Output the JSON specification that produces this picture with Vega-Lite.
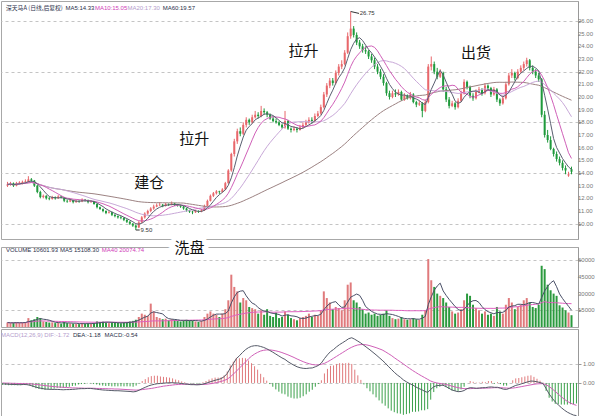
{
"$schema":"https://vega.github.io/schema/vega-lite/v6.json",
"padding":0,
"spacing":0,
"config":{"view":{"stroke":"#a8a8a8"},"concat":{"spacing":0},"font":"Noto Sans CJK SC"},
"data":{"values":[
{"i":0,"o":13.0,"h":13.3,"l":12.9,"c":13.1,"v":4000,"dif":-0.05,"dea":0,"m":-0.1},
{"i":1,"o":13.1,"h":13.3,"l":13.0,"c":13.15,"v":3500,"dif":-0.06,"dea":-0.01,"m":-0.1},
{"i":2,"o":13.2,"h":13.25,"l":12.9,"c":13.0,"v":3800,"dif":-0.07,"dea":-0.01,"m":-0.12},
{"i":3,"o":13.0,"h":13.3,"l":12.95,"c":13.2,"v":4200,"dif":-0.08,"dea":-0.02,"m":-0.12},
{"i":4,"o":13.2,"h":13.35,"l":13.1,"c":13.25,"v":3600,"dif":-0.08,"dea":-0.02,"m":-0.12},
{"i":5,"o":13.2,"h":13.4,"l":13.1,"c":13.3,"v":4000,"dif":-0.09,"dea":-0.03,"m":-0.12},
{"i":6,"o":13.3,"h":13.5,"l":13.2,"c":13.35,"v":4500,"dif":-0.09,"dea":-0.03,"m":-0.12},
{"i":7,"o":13.3,"h":13.75,"l":13.25,"c":13.5,"v":8000,"dif":-0.08,"dea":-0.04,"m":-0.08},
{"i":8,"o":13.5,"h":13.6,"l":13.3,"c":13.4,"v":6000,"dif":-0.09,"dea":-0.04,"m":-0.1},
{"i":9,"o":13.4,"h":13.45,"l":12.9,"c":13.0,"v":7000,"dif":-0.12,"dea":-0.05,"m":-0.14},
{"i":10,"o":13.0,"h":13.05,"l":12.4,"c":12.5,"v":9000,"dif":-0.17,"dea":-0.06,"m":-0.22},
{"i":11,"o":12.5,"h":12.6,"l":12.0,"c":12.1,"v":8000,"dif":-0.22,"dea":-0.08,"m":-0.28},
{"i":12,"o":12.1,"h":12.3,"l":12.0,"c":12.2,"v":5000,"dif":-0.26,"dea":-0.1,"m":-0.32},
{"i":13,"o":12.2,"h":12.25,"l":11.9,"c":12.0,"v":4500,"dif":-0.29,"dea":-0.12,"m":-0.34},
{"i":14,"o":12.0,"h":12.1,"l":11.85,"c":11.95,"v":4000,"dif":-0.32,"dea":-0.14,"m":-0.36},
{"i":15,"o":11.95,"h":12.2,"l":11.9,"c":12.1,"v":4200,"dif":-0.33,"dea":-0.16,"m":-0.34},
{"i":16,"o":12.1,"h":12.15,"l":11.9,"c":12.0,"v":3500,"dif":-0.34,"dea":-0.18,"m":-0.32},
{"i":17,"o":12.0,"h":12.25,"l":11.95,"c":12.15,"v":3800,"dif":-0.34,"dea":-0.19,"m":-0.3},
{"i":18,"o":12.15,"h":12.2,"l":12.0,"c":12.05,"v":3000,"dif":-0.34,"dea":-0.21,"m":-0.26},
{"i":19,"o":12.05,"h":12.1,"l":11.7,"c":11.8,"v":4500,"dif":-0.35,"dea":-0.22,"m":-0.26},
{"i":20,"o":11.8,"h":11.9,"l":11.65,"c":11.75,"v":3500,"dif":-0.36,"dea":-0.23,"m":-0.26},
{"i":21,"o":11.75,"h":11.95,"l":11.7,"c":11.85,"v":3200,"dif":-0.35,"dea":-0.24,"m":-0.22},
{"i":22,"o":11.85,"h":11.9,"l":11.6,"c":11.7,"v":3000,"dif":-0.35,"dea":-0.25,"m":-0.2},
{"i":23,"o":11.7,"h":11.9,"l":11.65,"c":11.8,"v":2800,"dif":-0.34,"dea":-0.26,"m":-0.16},
{"i":24,"o":11.8,"h":11.85,"l":11.65,"c":11.75,"v":2600,"dif":-0.33,"dea":-0.26,"m":-0.14},
{"i":25,"o":11.75,"h":12.0,"l":11.7,"c":11.9,"v":3500,"dif":-0.31,"dea":-0.27,"m":-0.08},
{"i":26,"o":11.9,"h":11.95,"l":11.75,"c":11.85,"v":3000,"dif":-0.3,"dea":-0.27,"m":-0.06},
{"i":27,"o":11.85,"h":11.9,"l":11.6,"c":11.7,"v":3200,"dif":-0.3,"dea":-0.28,"m":-0.04},
{"i":28,"o":11.7,"h":11.85,"l":11.65,"c":11.75,"v":2800,"dif":-0.29,"dea":-0.28,"m":-0.02},
{"i":29,"o":11.75,"h":11.8,"l":11.5,"c":11.55,"v":3500,"dif":-0.29,"dea":-0.28,"m":-0.02},
{"i":30,"o":11.55,"h":11.6,"l":11.2,"c":11.3,"v":5000,"dif":-0.31,"dea":-0.28,"m":-0.06},
{"i":31,"o":11.3,"h":11.35,"l":11.1,"c":11.15,"v":4500,"dif":-0.33,"dea":-0.29,"m":-0.08},
{"i":32,"o":11.15,"h":11.2,"l":10.9,"c":11.0,"v":4800,"dif":-0.35,"dea":-0.29,"m":-0.12},
{"i":33,"o":11.0,"h":11.05,"l":10.75,"c":10.85,"v":4000,"dif":-0.37,"dea":-0.3,"m":-0.14},
{"i":34,"o":10.85,"h":11.0,"l":10.8,"c":10.9,"v":3500,"dif":-0.38,"dea":-0.3,"m":-0.16},
{"i":35,"o":10.9,"h":10.95,"l":10.6,"c":10.7,"v":4200,"dif":-0.39,"dea":-0.31,"m":-0.16},
{"i":36,"o":10.7,"h":10.75,"l":10.5,"c":10.6,"v":3800,"dif":-0.4,"dea":-0.31,"m":-0.18},
{"i":37,"o":10.6,"h":10.65,"l":10.4,"c":10.5,"v":3600,"dif":-0.41,"dea":-0.32,"m":-0.18},
{"i":38,"o":10.5,"h":10.6,"l":10.35,"c":10.45,"v":3400,"dif":-0.41,"dea":-0.32,"m":-0.18},
{"i":39,"o":10.45,"h":10.5,"l":10.2,"c":10.3,"v":4000,"dif":-0.42,"dea":-0.33,"m":-0.18},
{"i":40,"o":10.3,"h":10.35,"l":10.05,"c":10.15,"v":4500,"dif":-0.43,"dea":-0.34,"m":-0.18},
{"i":41,"o":10.15,"h":10.2,"l":9.9,"c":10.0,"v":5000,"dif":-0.44,"dea":-0.35,"m":-0.18},
{"i":42,"o":10.0,"h":10.05,"l":9.75,"c":9.85,"v":5500,"dif":-0.45,"dea":-0.36,"m":-0.18},
{"i":43,"o":9.85,"h":9.95,"l":9.5,"c":9.7,"v":6500,"dif":-0.47,"dea":-0.37,"m":-0.2},
{"i":44,"o":9.7,"h":10.2,"l":9.65,"c":10.1,"v":9000,"dif":-0.45,"dea":-0.38,"m":-0.14},
{"i":45,"o":10.1,"h":10.6,"l":10.05,"c":10.5,"v":12000,"dif":-0.38,"dea":-0.37,"m":-0.02},
{"i":46,"o":10.5,"h":10.9,"l":10.4,"c":10.8,"v":11000,"dif":-0.3,"dea":-0.35,"m":0.1},
{"i":47,"o":10.8,"h":11.1,"l":10.7,"c":11.0,"v":10000,"dif":-0.23,"dea":-0.33,"m":0.2},
{"i":48,"o":11.0,"h":11.3,"l":10.9,"c":11.2,"v":21000,"dif":-0.16,"dea":-0.31,"m":0.3},
{"i":49,"o":11.2,"h":11.5,"l":11.1,"c":11.35,"v":14000,"dif":-0.11,"dea":-0.29,"m":0.36},
{"i":50,"o":11.35,"h":11.6,"l":11.3,"c":11.45,"v":9000,"dif":-0.07,"dea":-0.26,"m":0.38},
{"i":51,"o":11.45,"h":11.7,"l":11.4,"c":11.5,"v":8000,"dif":-0.04,"dea":-0.23,"m":0.38},
{"i":52,"o":11.5,"h":11.55,"l":11.3,"c":11.4,"v":7000,"dif":-0.03,"dea":-0.2,"m":0.34},
{"i":53,"o":11.4,"h":11.65,"l":11.35,"c":11.55,"v":7500,"dif":-0.01,"dea":-0.17,"m":0.32},
{"i":54,"o":11.55,"h":11.6,"l":11.4,"c":11.5,"v":6000,"dif":0,"dea":-0.15,"m":0.3},
{"i":55,"o":11.5,"h":11.75,"l":11.45,"c":11.6,"v":7000,"dif":0.01,"dea":-0.13,"m":0.28},
{"i":56,"o":11.6,"h":11.65,"l":11.4,"c":11.5,"v":6500,"dif":0.01,"dea":-0.11,"m":0.24},
{"i":57,"o":11.5,"h":11.55,"l":11.35,"c":11.45,"v":5500,"dif":0,"dea":-0.09,"m":0.18},
{"i":58,"o":11.45,"h":11.5,"l":11.25,"c":11.35,"v":5000,"dif":-0.01,"dea":-0.08,"m":0.14},
{"i":59,"o":11.35,"h":11.4,"l":11.1,"c":11.2,"v":6000,"dif":-0.03,"dea":-0.07,"m":0.08},
{"i":60,"o":11.2,"h":11.25,"l":10.95,"c":11.05,"v":6500,"dif":-0.05,"dea":-0.07,"m":0.04},
{"i":61,"o":11.05,"h":11.1,"l":10.85,"c":10.95,"v":6000,"dif":-0.07,"dea":-0.07,"m":0},
{"i":62,"o":10.95,"h":11.0,"l":10.75,"c":10.9,"v":5500,"dif":-0.09,"dea":-0.07,"m":-0.04},
{"i":63,"o":10.9,"h":11.1,"l":10.85,"c":11.0,"v":5000,"dif":-0.09,"dea":-0.08,"m":-0.02},
{"i":64,"o":11.0,"h":11.05,"l":10.85,"c":10.95,"v":4500,"dif":-0.1,"dea":-0.08,"m":-0.04},
{"i":65,"o":10.95,"h":11.15,"l":10.9,"c":11.05,"v":5500,"dif":-0.09,"dea":-0.08,"m":-0.02},
{"i":66,"o":11.05,"h":11.5,"l":11.0,"c":11.4,"v":9000,"dif":-0.06,"dea":-0.08,"m":0.04},
{"i":67,"o":11.4,"h":11.9,"l":11.35,"c":11.8,"v":12000,"dif":-0.02,"dea":-0.07,"m":0.1},
{"i":68,"o":11.8,"h":12.3,"l":11.75,"c":12.2,"v":14000,"dif":0.04,"dea":-0.05,"m":0.18},
{"i":69,"o":12.2,"h":12.5,"l":12.1,"c":12.4,"v":12000,"dif":0.09,"dea":-0.03,"m":0.24},
{"i":70,"o":12.4,"h":12.65,"l":12.3,"c":12.55,"v":11000,"dif":0.14,"dea":0,"m":0.28},
{"i":71,"o":12.55,"h":12.6,"l":12.35,"c":12.5,"v":9000,"dif":0.18,"dea":0.04,"m":0.28},
{"i":72,"o":12.5,"h":12.8,"l":12.45,"c":12.7,"v":12000,"dif":0.23,"dea":0.08,"m":0.3},
{"i":73,"o":12.7,"h":13.3,"l":12.65,"c":13.2,"v":16000,"dif":0.33,"dea":0.13,"m":0.4},
{"i":74,"o":13.2,"h":14.3,"l":13.15,"c":14.2,"v":24000,"dif":0.5,"dea":0.2,"m":0.6},
{"i":75,"o":14.2,"h":15.6,"l":14.1,"c":15.5,"v":47000,"dif":0.78,"dea":0.32,"m":0.92},
{"i":76,"o":15.5,"h":16.7,"l":15.3,"c":16.5,"v":36000,"dif":1.02,"dea":0.46,"m":1.12},
{"i":77,"o":16.5,"h":17.5,"l":16.3,"c":17.3,"v":32000,"dif":1.28,"dea":0.62,"m":1.32},
{"i":78,"o":17.3,"h":17.6,"l":16.9,"c":17.1,"v":22000,"dif":1.43,"dea":0.78,"m":1.3},
{"i":79,"o":17.1,"h":18.0,"l":17.0,"c":17.8,"v":26000,"dif":1.6,"dea":0.94,"m":1.32},
{"i":80,"o":17.8,"h":18.4,"l":17.6,"c":18.2,"v":24000,"dif":1.75,"dea":1.1,"m":1.3},
{"i":81,"o":18.2,"h":18.3,"l":17.8,"c":18.0,"v":18000,"dif":1.86,"dea":1.27,"m":1.18},
{"i":82,"o":18.0,"h":18.6,"l":17.9,"c":18.4,"v":17000,"dif":1.93,"dea":1.41,"m":1.04},
{"i":83,"o":18.4,"h":18.9,"l":18.3,"c":18.6,"v":16000,"dif":1.96,"dea":1.52,"m":0.88},
{"i":84,"o":18.6,"h":18.8,"l":18.3,"c":18.5,"v":12000,"dif":1.96,"dea":1.61,"m":0.7},
{"i":85,"o":18.5,"h":19.3,"l":18.4,"c":18.9,"v":15000,"dif":1.92,"dea":1.68,"m":0.48},
{"i":86,"o":18.9,"h":19.1,"l":18.6,"c":18.8,"v":11000,"dif":1.87,"dea":1.72,"m":0.3},
{"i":87,"o":18.8,"h":18.9,"l":18.4,"c":18.6,"v":16000,"dif":1.8,"dea":1.74,"m":0.12},
{"i":88,"o":18.6,"h":18.7,"l":18.2,"c":18.3,"v":10000,"dif":1.71,"dea":1.74,"m":-0.06},
{"i":89,"o":18.3,"h":18.5,"l":18.0,"c":18.1,"v":9000,"dif":1.62,"dea":1.72,"m":-0.2},
{"i":90,"o":18.1,"h":18.3,"l":17.9,"c":18.0,"v":13000,"dif":1.52,"dea":1.69,"m":-0.34},
{"i":91,"o":18.0,"h":18.1,"l":17.7,"c":17.8,"v":8000,"dif":1.42,"dea":1.65,"m":-0.46},
{"i":92,"o":17.8,"h":17.9,"l":17.5,"c":17.6,"v":9000,"dif":1.32,"dea":1.6,"m":-0.56},
{"i":93,"o":17.6,"h":18.9,"l":17.5,"c":18.1,"v":14000,"dif":1.24,"dea":1.54,"m":-0.6},
{"i":94,"o":18.1,"h":18.2,"l":17.4,"c":17.5,"v":11000,"dif":1.12,"dea":1.48,"m":-0.72},
{"i":95,"o":17.5,"h":17.6,"l":17.2,"c":17.4,"v":8000,"dif":1.02,"dea":1.41,"m":-0.78},
{"i":96,"o":17.4,"h":17.7,"l":17.3,"c":17.5,"v":7000,"dif":0.93,"dea":1.34,"m":-0.82},
{"i":97,"o":17.5,"h":17.6,"l":17.2,"c":17.4,"v":6000,"dif":0.85,"dea":1.26,"m":-0.82},
{"i":98,"o":17.4,"h":17.8,"l":17.35,"c":17.6,"v":8000,"dif":0.8,"dea":1.19,"m":-0.78},
{"i":99,"o":17.6,"h":18.0,"l":17.5,"c":17.8,"v":9000,"dif":0.77,"dea":1.12,"m":-0.7},
{"i":100,"o":17.8,"h":18.2,"l":17.7,"c":18.0,"v":10000,"dif":0.76,"dea":1.06,"m":-0.6},
{"i":101,"o":18.0,"h":18.4,"l":17.9,"c":18.2,"v":12000,"dif":0.78,"dea":1.01,"m":-0.46},
{"i":102,"o":18.2,"h":18.4,"l":17.9,"c":18.1,"v":9000,"dif":0.79,"dea":0.97,"m":-0.36},
{"i":103,"o":18.1,"h":18.7,"l":18.0,"c":18.5,"v":11000,"dif":0.85,"dea":0.95,"m":-0.2},
{"i":104,"o":18.5,"h":18.9,"l":18.4,"c":18.7,"v":10000,"dif":0.92,"dea":0.95,"m":-0.06},
{"i":105,"o":18.7,"h":19.4,"l":18.6,"c":19.2,"v":15000,"dif":1.05,"dea":0.98,"m":0.14},
{"i":106,"o":19.2,"h":20.4,"l":19.1,"c":20.2,"v":32000,"dif":1.28,"dea":1.03,"m":0.5},
{"i":107,"o":20.2,"h":21.1,"l":20.0,"c":20.9,"v":26000,"dif":1.48,"dea":1.11,"m":0.74},
{"i":108,"o":20.9,"h":21.5,"l":20.7,"c":21.3,"v":22000,"dif":1.65,"dea":1.2,"m":0.9},
{"i":109,"o":21.3,"h":21.5,"l":20.9,"c":21.1,"v":16000,"dif":1.76,"dea":1.3,"m":0.92},
{"i":110,"o":21.1,"h":22.1,"l":21.0,"c":21.9,"v":18000,"dif":1.9,"dea":1.4,"m":1.0},
{"i":111,"o":21.9,"h":22.6,"l":21.7,"c":22.4,"v":17000,"dif":2.02,"dea":1.5,"m":1.04},
{"i":112,"o":22.4,"h":22.9,"l":22.2,"c":22.6,"v":15000,"dif":2.12,"dea":1.6,"m":1.04},
{"i":113,"o":22.6,"h":23.7,"l":22.5,"c":23.5,"v":24000,"dif":2.22,"dea":1.7,"m":1.04},
{"i":114,"o":23.5,"h":25.1,"l":23.4,"c":24.8,"v":38000,"dif":2.33,"dea":1.8,"m":1.06},
{"i":115,"o":24.8,"h":26.75,"l":24.6,"c":25.4,"v":40000,"dif":2.38,"dea":1.88,"m":1.0},
{"i":116,"o":25.4,"h":25.6,"l":24.7,"c":24.9,"v":24000,"dif":2.3,"dea":1.95,"m":0.7},
{"i":117,"o":24.9,"h":25.1,"l":24.1,"c":24.3,"v":22000,"dif":2.2,"dea":2.0,"m":0.4},
{"i":118,"o":24.3,"h":24.5,"l":23.8,"c":24.0,"v":18000,"dif":2.1,"dea":2.02,"m":0.16},
{"i":119,"o":24.0,"h":24.2,"l":23.5,"c":23.7,"v":16000,"dif":1.98,"dea":2.02,"m":-0.08},
{"i":120,"o":23.7,"h":24.0,"l":23.4,"c":23.6,"v":12000,"dif":1.86,"dea":2.0,"m":-0.28},
{"i":121,"o":23.6,"h":23.7,"l":23.0,"c":23.2,"v":13000,"dif":1.74,"dea":1.96,"m":-0.44},
{"i":122,"o":23.2,"h":23.4,"l":22.7,"c":22.9,"v":11000,"dif":1.61,"dea":1.91,"m":-0.6},
{"i":123,"o":22.9,"h":23.1,"l":22.2,"c":22.4,"v":12000,"dif":1.48,"dea":1.86,"m":-0.76},
{"i":124,"o":22.4,"h":22.6,"l":21.8,"c":22.0,"v":10000,"dif":1.34,"dea":1.8,"m":-0.92},
{"i":125,"o":22.0,"h":22.2,"l":21.4,"c":21.6,"v":11000,"dif":1.2,"dea":1.74,"m":-1.08},
{"i":126,"o":21.6,"h":21.8,"l":20.9,"c":21.1,"v":12000,"dif":1.05,"dea":1.65,"m":-1.2},
{"i":127,"o":21.1,"h":21.2,"l":20.1,"c":20.3,"v":15000,"dif":0.88,"dea":1.55,"m":-1.34},
{"i":128,"o":20.3,"h":20.5,"l":19.8,"c":20.0,"v":10000,"dif":0.72,"dea":1.45,"m":-1.46},
{"i":129,"o":20.0,"h":20.5,"l":19.9,"c":20.3,"v":8000,"dif":0.56,"dea":1.33,"m":-1.54},
{"i":130,"o":20.3,"h":20.6,"l":20.0,"c":20.2,"v":7000,"dif":0.42,"dea":1.22,"m":-1.6},
{"i":131,"o":20.2,"h":20.6,"l":20.1,"c":20.4,"v":7500,"dif":0.3,"dea":1.11,"m":-1.62},
{"i":132,"o":20.4,"h":20.5,"l":19.7,"c":19.8,"v":9000,"dif":0.16,"dea":1.0,"m":-1.68},
{"i":133,"o":19.8,"h":20.3,"l":19.7,"c":20.1,"v":7000,"dif":0.06,"dea":0.88,"m":-1.64},
{"i":134,"o":20.1,"h":20.2,"l":19.8,"c":19.9,"v":6500,"dif":-0.03,"dea":0.77,"m":-1.6},
{"i":135,"o":19.9,"h":20.4,"l":19.8,"c":20.2,"v":7000,"dif":-0.1,"dea":0.66,"m":-1.52},
{"i":136,"o":20.2,"h":20.3,"l":19.5,"c":19.6,"v":8000,"dif":-0.2,"dea":0.56,"m":-1.52},
{"i":137,"o":19.6,"h":19.7,"l":19.2,"c":19.4,"v":7000,"dif":-0.29,"dea":0.46,"m":-1.5},
{"i":138,"o":19.4,"h":19.7,"l":19.3,"c":19.5,"v":6500,"dif":-0.35,"dea":0.37,"m":-1.44},
{"i":139,"o":19.5,"h":19.6,"l":18.4,"c":18.9,"v":11000,"dif":-0.44,"dea":0.28,"m":-1.44},
{"i":140,"o":18.9,"h":19.8,"l":18.8,"c":19.6,"v":15000,"dif":-0.5,"dea":0.19,"m":-1.38},
{"i":141,"o":19.6,"h":22.6,"l":19.5,"c":22.4,"v":61000,"dif":-0.34,"dea":0.1,"m":-0.88},
{"i":142,"o":22.4,"h":23.2,"l":22.1,"c":22.6,"v":42000,"dif":-0.2,"dea":0.04,"m":-0.48},
{"i":143,"o":22.6,"h":22.8,"l":21.8,"c":22.0,"v":36000,"dif":-0.14,"dea":0,"m":-0.28},
{"i":144,"o":22.0,"h":22.3,"l":21.4,"c":21.6,"v":30000,"dif":-0.13,"dea":-0.03,"m":-0.2},
{"i":145,"o":21.6,"h":22.2,"l":21.5,"c":21.9,"v":28000,"dif":-0.12,"dea":-0.05,"m":-0.14},
{"i":146,"o":21.9,"h":22.0,"l":20.4,"c":20.6,"v":26000,"dif":-0.19,"dea":-0.08,"m":-0.22},
{"i":147,"o":20.6,"h":20.8,"l":19.6,"c":19.8,"v":22000,"dif":-0.28,"dea":-0.12,"m":-0.32},
{"i":148,"o":19.8,"h":20.0,"l":19.1,"c":19.3,"v":18000,"dif":-0.37,"dea":-0.17,"m":-0.4},
{"i":149,"o":19.3,"h":19.7,"l":19.2,"c":19.5,"v":14000,"dif":-0.42,"dea":-0.21,"m":-0.42},
{"i":150,"o":19.5,"h":19.6,"l":19.0,"c":19.2,"v":12000,"dif":-0.46,"dea":-0.25,"m":-0.42},
{"i":151,"o":19.2,"h":19.9,"l":19.1,"c":19.7,"v":13000,"dif":-0.45,"dea":-0.28,"m":-0.34},
{"i":152,"o":19.7,"h":20.5,"l":19.6,"c":20.3,"v":16000,"dif":-0.4,"dea":-0.3,"m":-0.2},
{"i":153,"o":20.3,"h":21.4,"l":20.2,"c":21.2,"v":24000,"dif":-0.3,"dea":-0.3,"m":0},
{"i":154,"o":21.2,"h":21.3,"l":20.6,"c":20.8,"v":30000,"dif":-0.25,"dea":-0.3,"m":0.1},
{"i":155,"o":20.8,"h":20.9,"l":19.9,"c":20.1,"v":28000,"dif":-0.26,"dea":-0.29,"m":0.06},
{"i":156,"o":20.1,"h":20.3,"l":19.7,"c":19.9,"v":20000,"dif":-0.28,"dea":-0.29,"m":0.02},
{"i":157,"o":19.9,"h":20.6,"l":19.8,"c":20.4,"v":17000,"dif":-0.27,"dea":-0.28,"m":0.02},
{"i":158,"o":20.4,"h":20.8,"l":20.3,"c":20.6,"v":15000,"dif":-0.25,"dea":-0.28,"m":0.06},
{"i":159,"o":20.6,"h":20.7,"l":20.1,"c":20.3,"v":12000,"dif":-0.25,"dea":-0.27,"m":0.04},
{"i":160,"o":20.3,"h":21.1,"l":20.2,"c":20.9,"v":14000,"dif":-0.22,"dea":-0.27,"m":0.1},
{"i":161,"o":20.9,"h":21.0,"l":20.5,"c":20.7,"v":11000,"dif":-0.21,"dea":-0.26,"m":0.1},
{"i":162,"o":20.7,"h":20.8,"l":20.0,"c":20.2,"v":12000,"dif":-0.23,"dea":-0.25,"m":-0.04},
{"i":163,"o":20.2,"h":20.8,"l":20.1,"c":20.6,"v":10000,"dif":-0.23,"dea":-0.25,"m":0.04},
{"i":164,"o":20.6,"h":20.7,"l":19.6,"c":19.8,"v":18000,"dif":-0.28,"dea":-0.25,"m":-0.06},
{"i":165,"o":19.8,"h":19.9,"l":19.3,"c":19.5,"v":14000,"dif":-0.33,"dea":-0.26,"m":-0.14},
{"i":166,"o":19.5,"h":20.1,"l":19.4,"c":19.9,"v":12000,"dif":-0.34,"dea":-0.27,"m":-0.14},
{"i":167,"o":19.9,"h":21.2,"l":19.8,"c":21.0,"v":20000,"dif":-0.28,"dea":-0.28,"m":0},
{"i":168,"o":21.0,"h":21.9,"l":20.9,"c":21.7,"v":26000,"dif":-0.2,"dea":-0.27,"m":0.14},
{"i":169,"o":21.7,"h":22.2,"l":21.5,"c":21.9,"v":22000,"dif":-0.13,"dea":-0.25,"m":0.24},
{"i":170,"o":21.9,"h":22.0,"l":21.3,"c":21.5,"v":16000,"dif":-0.09,"dea":-0.22,"m":0.26},
{"i":171,"o":21.5,"h":22.2,"l":21.4,"c":22.0,"v":18000,"dif":-0.04,"dea":-0.19,"m":0.3},
{"i":172,"o":22.0,"h":22.5,"l":21.9,"c":22.3,"v":20000,"dif":0.01,"dea":-0.16,"m":0.34},
{"i":173,"o":22.3,"h":22.8,"l":22.1,"c":22.6,"v":24000,"dif":0.06,"dea":-0.13,"m":0.38},
{"i":174,"o":22.6,"h":23.1,"l":22.4,"c":22.9,"v":26000,"dif":0.1,"dea":-0.1,"m":0.4},
{"i":175,"o":22.9,"h":23.0,"l":22.1,"c":22.3,"v":22000,"dif":0.09,"dea":-0.07,"m":0.32},
{"i":176,"o":22.3,"h":22.5,"l":21.8,"c":22.0,"v":18000,"dif":0.06,"dea":-0.05,"m":0.22},
{"i":177,"o":22.0,"h":22.2,"l":21.5,"c":21.7,"v":17000,"dif":0.02,"dea":-0.04,"m":0.12},
{"i":178,"o":21.7,"h":21.9,"l":21.2,"c":21.4,"v":20000,"dif":-0.03,"dea":-0.04,"m":0.02},
{"i":179,"o":21.4,"h":21.5,"l":18.4,"c":18.6,"v":55000,"dif":-0.3,"dea":-0.09,"m":-0.42},
{"i":180,"o":18.6,"h":18.9,"l":16.8,"c":17.0,"v":52000,"dif":-0.58,"dea":-0.19,"m":-0.78},
{"i":181,"o":17.0,"h":17.4,"l":16.4,"c":16.6,"v":38000,"dif":-0.8,"dea":-0.31,"m":-0.98},
{"i":182,"o":16.6,"h":16.9,"l":15.8,"c":15.9,"v":33000,"dif":-1.0,"dea":-0.45,"m":-1.1},
{"i":183,"o":15.9,"h":16.0,"l":15.3,"c":15.5,"v":30000,"dif":-1.15,"dea":-0.59,"m":-1.12},
{"i":184,"o":15.5,"h":15.7,"l":14.9,"c":15.1,"v":28000,"dif":-1.3,"dea":-0.73,"m":-1.14},
{"i":185,"o":15.1,"h":15.3,"l":14.6,"c":14.8,"v":19500,"dif":-1.43,"dea":-0.86,"m":-1.14},
{"i":186,"o":14.8,"h":15.0,"l":14.2,"c":14.4,"v":17500,"dif":-1.54,"dea":-0.97,"m":-1.14},
{"i":187,"o":14.4,"h":14.6,"l":13.9,"c":14.2,"v":15000,"dif":-1.62,"dea":-1.06,"m":-1.12},
{"i":188,"o":13.8,"h":14.1,"l":13.7,"c":13.9,"v":13000,"dif":-1.69,"dea":-1.13,"m":-1.12},
{"i":189,"o":14.3,"h":14.5,"l":13.9,"c":14.1,"v":10601.93,"dif":-1.72,"dea":-1.18,"m":-1.08}
]},
"transform":[
{"window":[{"op":"mean","field":"c","as":"ma5"},{"op":"mean","field":"v","as":"vma5"}],"frame":[-4,0],"sort":[{"field":"i"}]},
{"window":[{"op":"mean","field":"c","as":"ma10"}],"frame":[-9,0],"sort":[{"field":"i"}]},
{"window":[{"op":"mean","field":"c","as":"ma20"}],"frame":[-19,0],"sort":[{"field":"i"}]},
{"window":[{"op":"mean","field":"v","as":"vma40"}],"frame":[-39,0],"sort":[{"field":"i"}]},
{"window":[{"op":"mean","field":"c","as":"ma60"}],"frame":[-59,0],"sort":[{"field":"i"}]}
],
"vconcat":[
{
"width":577,"height":238,
"layer":[
{"mark":{"type":"rule","strokeWidth":1},
 "encoding":{
  "x":{"field":"i","type":"quantitative","scale":{"domain":[-0.5,189.5],"nice":false,"zero":false},"axis":null},
  "y":{"field":"l","type":"quantitative","title":null,"scale":{"domain":[8.79,27.58],"nice":false,"zero":false},
   "axis":{"orient":"right","values":[10,11,12,13,14,15,16,17,18,19,20,21,22,23,24,25,26],"labels":false,"title":null,
    "grid":true,"gridDash":[3,3],"gridColor":"#c4c4c4","gridOpacity":{"condition":{"test":"datum.value % 2 === 0","value":1},"value":0},
    "tickSize":3,"tickColor":"#999","domainColor":"#999"}},
  "y2":{"field":"h"},
  "color":{"condition":{"test":"datum.c >= datum.o","value":"#e8676b"},"value":"#1f9a3c"}}},
{"mark":{"type":"bar","size":2},
 "encoding":{
  "x":{"field":"i","type":"quantitative","scale":{"domain":[-0.5,189.5],"nice":false,"zero":false},"axis":null},
  "y":{"field":"o","type":"quantitative","title":null},
  "y2":{"field":"c"},
  "color":{"condition":{"test":"datum.c >= datum.o","value":"#e8676b"},"value":"#1f9a3c"}}},
{"mark":{"type":"line","strokeWidth":1,"color":"#9c8282"},
 "encoding":{"x":{"field":"i","type":"quantitative","scale":{"domain":[-0.5,189.5],"nice":false,"zero":false},"axis":null},"y":{"field":"ma60","type":"quantitative","title":null}}},
{"mark":{"type":"line","strokeWidth":1,"color":"#c8a8d8"},
 "encoding":{"x":{"field":"i","type":"quantitative","scale":{"domain":[-0.5,189.5],"nice":false,"zero":false},"axis":null},"y":{"field":"ma20","type":"quantitative","title":null}}},
{"mark":{"type":"line","strokeWidth":1,"color":"#d060b8"},
 "encoding":{"x":{"field":"i","type":"quantitative","scale":{"domain":[-0.5,189.5],"nice":false,"zero":false},"axis":null},"y":{"field":"ma10","type":"quantitative","title":null}}},
{"mark":{"type":"line","strokeWidth":1,"color":"#5a5f70"},
 "encoding":{"x":{"field":"i","type":"quantitative","scale":{"domain":[-0.5,189.5],"nice":false,"zero":false},"axis":null},"y":{"field":"ma5","type":"quantitative","title":null}}},
{"data":{"values":[{"val":10},{"val":11},{"val":12},{"val":13},{"val":14},{"val":15},{"val":16},{"val":17},{"val":18},{"val":19},{"val":20},{"val":21},{"val":22},{"val":23},{"val":24},{"val":25},{"val":26}]},
 "mark":{"type":"text","align":"left","baseline":"middle","dx":5,"fontSize":6,"font":"Liberation Sans","color":"#777"},
 "encoding":{"x":{"datum":189.5,"type":"quantitative","scale":{"domain":[-0.5,189.5],"nice":false,"zero":false},"axis":null},
  "y":{"field":"val","type":"quantitative","title":null},
  "text":{"field":"val","type":"quantitative","format":".2f"}}},
{"data":{"values":[{"t":"深天马A (日线,后复权)","x":-0.5,"y":27.03}]},
 "mark":{"type":"text","fontSize":5.8,"align":"left","baseline":"middle","color":"#2a2f4a"},
 "encoding":{"x":{"field":"x","type":"quantitative","scale":{"domain":[-0.5,189.5],"nice":false,"zero":false},"axis":null},
  "y":{"field":"y","type":"quantitative","title":null},
  "text":{"field":"t"}}},
{"data":{"values":[
  {"t":"MA5:14.33","x":19.4,"y":27.03,"k":"ma5"},
  {"t":"MA10:15.05","x":29.3,"y":27.03,"k":"ma10"},
  {"t":"MA20:17.30","x":40.2,"y":27.03,"k":"ma20"},
  {"t":"MA60:19.57","x":52,"y":27.03,"k":"ma60"}]},
 "mark":{"type":"text","fontSize":6,"align":"left","baseline":"middle","font":"Liberation Sans"},
 "encoding":{"x":{"field":"x","type":"quantitative","scale":{"domain":[-0.5,189.5],"nice":false,"zero":false},"axis":null},
  "y":{"field":"y","type":"quantitative","title":null},
  "text":{"field":"t"},
  "color":{"field":"k","type":"nominal","scale":{"domain":["ma5","ma10","ma20","ma60"],"range":["#2a2f4a","#d040b8","#b49ccc","#2a2f4a"]},"legend":null}}},
{"data":{"values":[
  {"t":"建仓","x":47.5,"y":13.2},
  {"t":"拉升","x":62.6,"y":16.7},
  {"t":"拉升","x":99.2,"y":23.6},
  {"t":"出货","x":157,"y":23.5}]},
 "mark":{"type":"text","fontSize":15,"align":"center","baseline":"middle","color":"#111"},
 "encoding":{"x":{"field":"x","type":"quantitative","scale":{"domain":[-0.5,189.5],"nice":false,"zero":false},"axis":null},
  "y":{"field":"y","type":"quantitative","title":null},
  "text":{"field":"t"}}},
{"data":{"values":[
  {"x":115,"x2":117.8,"y":26.75,"y2":26.6},
  {"x":43,"x2":44.3,"y":9.5,"y2":9.5}]},
 "mark":{"type":"rule","strokeWidth":1,"color":"#333"},
 "encoding":{"x":{"field":"x","type":"quantitative","scale":{"domain":[-0.5,189.5],"nice":false,"zero":false},"axis":null},
  "x2":{"field":"x2"},
  "y":{"field":"y","type":"quantitative","title":null},
  "y2":{"field":"y2"}}},
{"data":{"values":[
  {"t":"26.75","x":118,"y":26.6},
  {"t":"9.50","x":44.6,"y":9.5}]},
 "mark":{"type":"text","fontSize":6,"align":"left","baseline":"middle","color":"#333","font":"Liberation Sans"},
 "encoding":{"x":{"field":"x","type":"quantitative","scale":{"domain":[-0.5,189.5],"nice":false,"zero":false},"axis":null},
  "y":{"field":"y","type":"quantitative","title":null},
  "text":{"field":"t"}}}
]
},
{
"width":577,"height":80,
"layer":[
{"mark":{"type":"bar","size":2},
 "encoding":{
  "x":{"field":"i","type":"quantitative","scale":{"domain":[-0.5,189.5],"nice":false,"zero":false},"axis":null},
  "y":{"field":"v","type":"quantitative","title":null,"scale":{"domain":[0,71860],"nice":false},
   "axis":{"orient":"right","values":[15000,30000,45000,60000],"labels":false,"title":null,
    "grid":true,"gridDash":[3,3],"gridColor":"#c4c4c4",
    "tickSize":3,"tickColor":"#999","domainColor":"#999"}},
  "color":{"condition":{"test":"datum.c >= datum.o","value":"#e07a7c"},"value":"#2b9a3e"}}},
{"mark":{"type":"line","strokeWidth":1,"color":"#e060c0"},
 "encoding":{"x":{"field":"i","type":"quantitative","scale":{"domain":[-0.5,189.5],"nice":false,"zero":false},"axis":null},"y":{"field":"vma40","type":"quantitative","title":null}}},
{"mark":{"type":"line","strokeWidth":1,"color":"#4a5068"},
 "encoding":{"x":{"field":"i","type":"quantitative","scale":{"domain":[-0.5,189.5],"nice":false,"zero":false},"axis":null},"y":{"field":"vma5","type":"quantitative","title":null}}},
{"data":{"values":[{"val":15000},{"val":30000},{"val":45000},{"val":60000}]},
 "mark":{"type":"text","align":"left","baseline":"middle","dx":5,"fontSize":6,"font":"Liberation Sans","color":"#777"},
 "encoding":{"x":{"datum":189.5,"type":"quantitative","scale":{"domain":[-0.5,189.5],"nice":false,"zero":false},"axis":null},
  "y":{"field":"val","type":"quantitative","title":null},
  "text":{"field":"val","type":"quantitative","format":"d"}}},
{"data":{"values":[
  {"t":"VOLUME 10601.93","x":-0.5,"y":69000,"k":"vol"},
  {"t":"MA5 15108.30","x":17.6,"y":69000,"k":"ma5"},
  {"t":"MA40 20074.74","x":31.6,"y":69000,"k":"ma40"}]},
 "mark":{"type":"text","fontSize":6,"align":"left","baseline":"middle","font":"Liberation Sans"},
 "encoding":{"x":{"field":"x","type":"quantitative","scale":{"domain":[-0.5,189.5],"nice":false,"zero":false},"axis":null},
  "y":{"field":"y","type":"quantitative","title":null},
  "text":{"field":"t"},
  "color":{"field":"k","type":"nominal","scale":{"domain":["vol","ma5","ma40"],"range":["#2a2f4a","#2a2f4a","#d040b8"]},"legend":null}}},
{"data":{"values":[{"t":"洗盘","x":61,"y":70900}]},
 "mark":{"type":"text","fontSize":15,"align":"center","baseline":"middle","color":"#ffffff","stroke":"#ffffff","strokeWidth":9},
 "encoding":{"x":{"field":"x","type":"quantitative","scale":{"domain":[-0.5,189.5],"nice":false,"zero":false},"axis":null},
  "y":{"field":"y","type":"quantitative","title":null},
  "text":{"field":"t"}}},
{"data":{"values":[{"t":"洗盘","x":61,"y":70900}]},
 "mark":{"type":"text","fontSize":15,"align":"center","baseline":"middle","color":"#111"},
 "encoding":{"x":{"field":"x","type":"quantitative","scale":{"domain":[-0.5,189.5],"nice":false,"zero":false},"axis":null},
  "y":{"field":"y","type":"quantitative","title":null},
  "text":{"field":"t"}}}
]
},
{
"width":577,"height":98,
"layer":[
{"mark":{"type":"rule","strokeWidth":1},
 "encoding":{
  "x":{"field":"i","type":"quantitative","scale":{"domain":[-0.5,189.5],"nice":false,"zero":false},"axis":null},
  "y":{"field":"m","type":"quantitative","title":null,"scale":{"domain":[-2.32,2.84],"nice":false,"zero":false},
   "axis":{"orient":"right","values":[0,1],"labels":false,"title":null,
    "grid":true,"gridDash":[3,3],"gridColor":"#c4c4c4",
    "tickSize":3,"tickColor":"#999","domainColor":"#999"}},
  "y2":{"datum":0},
  "color":{"condition":{"test":"datum.m > 0","value":"#e07a7c"},"value":"#3aa04a"}}},
{"mark":{"type":"line","strokeWidth":1,"color":"#d060b8"},
 "encoding":{"x":{"field":"i","type":"quantitative","scale":{"domain":[-0.5,189.5],"nice":false,"zero":false},"axis":null},"y":{"field":"dea","type":"quantitative","title":null}}},
{"mark":{"type":"line","strokeWidth":1,"color":"#555a68"},
 "encoding":{"x":{"field":"i","type":"quantitative","scale":{"domain":[-0.5,189.5],"nice":false,"zero":false},"axis":null},"y":{"field":"dif","type":"quantitative","title":null}}},
{"data":{"values":[{"val":0},{"val":1}]},
 "mark":{"type":"text","align":"left","baseline":"middle","dx":5,"fontSize":6,"font":"Liberation Sans","color":"#777"},
 "encoding":{"x":{"datum":189.5,"type":"quantitative","scale":{"domain":[-0.5,189.5],"nice":false,"zero":false},"axis":null},
  "y":{"field":"val","type":"quantitative","title":null},
  "text":{"field":"val","type":"quantitative","format":".2f"}}},
{"data":{"values":[
  {"t":"MACD(12,26,9) DIF:-1.72","x":-0.5,"y":2.52,"k":"dif"},
  {"t":"DEA:-1.18","x":23.2,"y":2.52,"k":"dea"},
  {"t":"MACD:-0.54","x":33.6,"y":2.52,"k":"macd"}]},
 "mark":{"type":"text","fontSize":6,"align":"left","baseline":"middle","font":"Liberation Sans"},
 "encoding":{"x":{"field":"x","type":"quantitative","scale":{"domain":[-0.5,189.5],"nice":false,"zero":false},"axis":null},
  "y":{"field":"y","type":"quantitative","title":null},
  "text":{"field":"t"},
  "color":{"field":"k","type":"nominal","scale":{"domain":["dif","dea","macd"],"range":["#2a2f4a","#d040b8","#b49ccc"]},"legend":null}}}
]
}
]
}
